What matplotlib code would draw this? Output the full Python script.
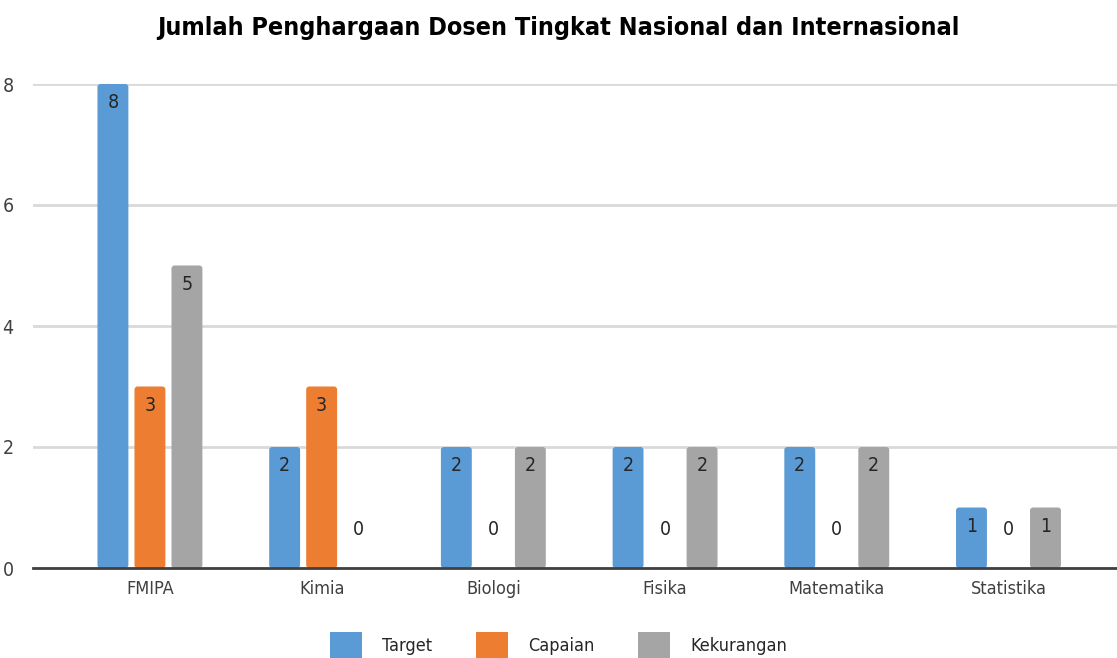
import matplotlib
matplotlib.use("Agg")
import matplotlib.pyplot as plt
from matplotlib.patches import Patch, FancyBboxPatch
import numpy as np

categories = ["FMIPA", "Kimia", "Biologi", "Fisika", "Matematika", "Statistika"]
target = [8, 2, 2, 2, 2, 1]
capaian = [3, 3, 0, 0, 0, 0]
kekurangan = [5, 0, 2, 2, 2, 1]
series_names = ["Target", "Capaian", "Kekurangan"]
colors = ["#5B9BD5", "#ED7D31", "#A5A5A5"]

plt.rcParams["font.family"] = ["DejaVu Sans"]
plt.rcParams["font.stretch"] = "condensed"

fig = plt.figure(figsize=(11.17, 6.58), dpi=100)
ax = fig.add_axes([33 / 1117, 1 - 568 / 658, 1 - 33 / 1117, (568 - 84) / 658])
ax.set_xlim(-0.681, 5.632)
ax.set_ylim(0, 8)

# data units per pixel, so the rounded corners come out circular
xpp = (5.632 + 0.681) / 1084
ypp = 8 / 484

x = np.arange(len(categories))
w = 0.18
step = 0.2155
for k, (vals, col) in enumerate(zip([target, capaian, kekurangan], colors)):
    pos = x + (k - 1) * step
    bars = ax.bar(pos, vals, width=w, color=col, zorder=2)
    # swap plain rectangles for ones with slightly rounded corners
    for b in bars:
        if b.get_height() > 0:
            rb = FancyBboxPatch((b.get_x(), b.get_y()), b.get_width(), b.get_height(),
                                boxstyle=f"round,pad=0,rounding_size={3 * xpp}",
                                mutation_aspect=ypp / xpp, facecolor=col,
                                edgecolor="none", zorder=2)
            ax.add_patch(rb)
        b.set_visible(False)
    for px, v in zip(pos, vals):
        ypos = v - 0.31 if v > 0 else 0.63
        ax.text(px, ypos, str(v), ha="center", va="center",
                fontsize=14, color="#262626", zorder=3)

ax.set_yticks([0, 2, 4, 6, 8])
ax.set_xticks(x)
ax.set_xticklabels(categories)
ax.grid(axis="y", color="#D9D9D9", linewidth=2, zorder=0)
ax.set_axisbelow(True)
for s in ["top", "right", "left"]:
    ax.spines[s].set_visible(False)
ax.spines["bottom"].set_color("#404040")
ax.spines["bottom"].set_linewidth(2)
ax.spines["bottom"].set_zorder(4)
ax.tick_params(axis="both", length=0, labelsize=13, labelcolor="#404040")
ax.tick_params(axis="y", labelsize=14, pad=14)
ax.tick_params(axis="x", pad=9)

fig.suptitle("Jumlah Penghargaan Dosen Tingkat Nasional dan Internasional",
             x=0.5, y=1 - 28 / 658, va="center", fontsize=18,
             fontweight="bold", color="black")

handles = [Patch(facecolor=c, label=n) for c, n in zip(colors, series_names)]
fig.legend(handles=handles, loc="center", bbox_to_anchor=(0.5, 1 - 645 / 658),
           ncol=3, frameon=False, fontsize=13, handlelength=1.8,
           handleheight=1.9, handletextpad=1.1, columnspacing=2.4,
           labelcolor="#262626")

fig.savefig("out.png", dpi=100)
